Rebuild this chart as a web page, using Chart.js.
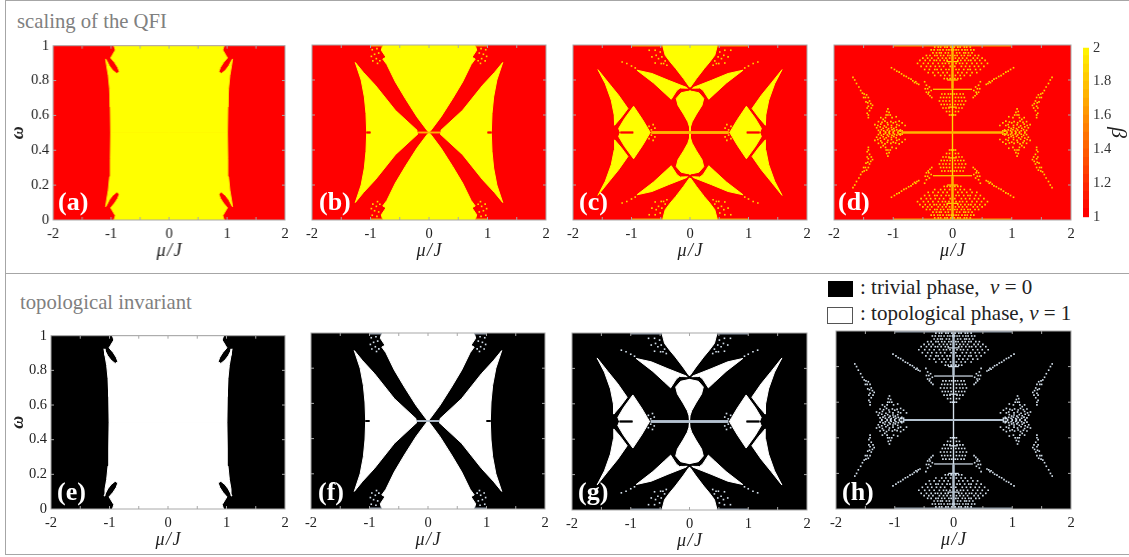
<!DOCTYPE html>
<html><head><meta charset="utf-8">
<script src="https://cdn.jsdelivr.net/npm/chart.js@4"></script>
<style>
html,body{margin:0;padding:0;background:#fff;width:1129px;height:557px;overflow:hidden;font-family:"Liberation Serif",serif}
canvas{position:absolute}
.t{position:absolute;white-space:pre;line-height:1;font-family:"Liberation Serif",serif}
.box{position:absolute;border:1.5px solid #a6a6a6;border-right:none;box-sizing:border-box}
.tag{color:#fff;font-weight:bold;font-size:26px;z-index:5}
</style></head><body>
<div class="box" style="left:5px;top:0;width:1130px;height:274px"></div>
<div class="box" style="left:5px;top:273px;width:1130px;height:282px"></div>
<div class="t" style="left:17px;top:11px;font-size:20.7px;color:#808080">scaling of the QFI</div>
<div class="t" style="left:20px;top:292px;font-size:20.7px;color:#808080">topological invariant</div>
<div style="position:absolute;left:828px;top:281px;width:25px;height:16px;background:#000"></div>
<div style="position:absolute;left:827px;top:307px;width:26px;height:17px;background:#fff;border:1px solid #555;box-sizing:border-box"></div>
<div class="t" style="left:860px;top:277px;font-size:21px;color:#222">: trivial phase,  <i>&#957;</i> = 0</div>
<div class="t" style="left:860px;top:303px;font-size:21px;color:#222">: topological phase, <i>&#957;</i> = 1</div>
<script>
// ---------- axis ticks ----------
const muMin = -2, muMax = 2, omegaMin = 0, omegaMax = 1;
const betaLevels = [1,1.05,1.1,1.15,1.2,1.25,1.3,1.35,1.4,1.45,1.5,1.55,1.6,1.65,1.7,1.75,1.8,1.85,1.9,1.95,2];
const minorMu = [-1.5,-1,-0.5,0,0.5,1,1.5];
const minorOmega = [0.2,0.4,0.6,0.8];

// ---------- phase boundaries, upper-left quadrant, [mu, omega] (the maps are symmetric) ----------
const aCentre = [[0,1],[-0.95,1],[-0.926,.975],[-0.984,.943],[-1.007,.93],[-0.938,.903],[-0.886,.876],[-0.857,.85],[-0.903,.84],[-0.973,.859],[-1.03,.884],[-1.076,.914],[-1.094,.924],[-1.077,.886],[-1.048,.829],[-1.025,.752],[-1.013,.648],[-1.007,.5],[0,.5]];

const bTop = [[0,1],[-0.79,1],[-0.815,.97],[-0.735,.93],[-0.79,.92],[-0.72,.888],[-0.575,.789],[-0.405,.694],[-0.205,.589],[-0.035,.513],[0,.5]];
const bLeft = [[-1.26,.90],[-1.16,.80],[-1.105,.703],[-1.077,.608],[-1.065,.5],[-0.194,.5],[-0.205,.513],[-0.575,.627],[-0.917,.77],[-1.117,.842]];
const bDots = [[-0.97,.973],[-0.89,.979],[-0.93,.947],[-0.86,.954],[-0.985,.935],[-0.90,.922],[-0.96,.909],[-0.84,.91],[-0.88,.895]];
const bStubs = [[[-1.07,.5],[-1.0,.5]]];
const bLines = [[[-0.194,.5],[0,.5]]];
const bEdges = [[[-1,1],[-0.79,1]]];

const cTop = [[0,1],[-0.47,1],[-0.424,.941],[-0.338,.903],[-0.242,.865],[-0.111,.808],[-0.009,.76],[0,.76]];
const cBand = [[-0.907,.856],[-0.65,.837],[-0.367,.798],[-0.054,.757],[-0.037,.75],[-0.168,.755],[-0.225,.74],[-0.321,.69],[-0.424,.722],[-0.623,.783]];
const cBulb = [[0,.738],[-0.151,.727],[-0.235,.695],[-0.205,.655],[-0.111,.605],[-0.037,.561],[-0.009,.532],[0,.5]];
const cCrescent = [[-1.573,.859],[-1.448,.779],[-1.346,.684],[-1.295,.599],[-1.289,.542],[-1.175,.586],[-1.061,.637],[-1.22,.713],[-1.391,.783]];
const cInner = [[-0.964,.65],[-0.811,.574],[-0.72,.523],[-0.68,.5],[-1.192,.5],[-1.22,.523],[-1.118,.58]];
const cDots = [[-1.16,.903],[-1.08,.894],[-1.0,.88],[-0.936,.869],[-0.697,.97],[-0.595,.97],[-0.509,.96],[-0.651,.932],[-0.538,.922],[-0.481,.932],[-0.578,.941],[-0.452,.894],[-0.395,.884],[-0.492,.894],[-0.595,.897],[-0.424,.909],[-0.70,.535],[-0.63,.545],[-0.60,.525],[-0.66,.515]];
const cStubs = [[[-1.19,.5],[-0.97,.5]],[[-0.13,.745],[-0.02,.745]]];
const cLines = [[[-0.66,.5],[0,.5]]];
const cEdges = [[[-1,1],[-0.47,1]]];

const dDots = [
[-1.68,.815],[-1.65,.80],[-1.62,.78],[-1.58,.76],[-1.55,.74],[-1.52,.725],[-1.49,.72],[-1.47,.70],[-1.50,.70],[-1.45,.715],[-1.42,.70],[-1.46,.675],[-1.43,.67],[-1.40,.68],[-1.38,.665],[-1.35,.655],[-1.37,.64],[-1.42,.65],[-1.40,.625],[-1.44,.64],[-1.42,.60],[-1.42,.585],[-1.44,.61],
[-1.09,.635],[-1.11,.62],[-1.07,.615],[-1.12,.60],[-1.09,.60],[-1.05,.60],[-1.02,.585],[-1.13,.585],[-1.21,.585],[-1.17,.575],[-0.95,.59],[-0.9,.565],[-0.85,.555],[-0.8,.54],
[-1.25,.562],[-1.19,.558],[-1.14,.565],[-1.1,.556],[-1.04,.562],[-1.0,.555],[-0.96,.56],
[-1.31,.545],[-1.26,.54],[-1.21,.548],[-1.15,.538],[-1.09,.545],[-1.03,.54],[-0.94,.545],[-0.9,.54],
[-1.28,.527],[-1.22,.532],[-1.17,.524],[-1.12,.53],[-1.08,.522],[-1.03,.528],[-0.99,.522],[-0.95,.53],
[-1.25,.512],[-1.2,.516],[-1.16,.51],[-1.1,.514],[-1.06,.508],[-1.02,.516],[-0.98,.51],[-0.94,.515],[-0.9,.51],
[-1.22,.503],[-1.13,.503],[-1.07,.503],[-1.0,.503],[-0.92,.503],[-0.88,.515],[-0.88,.508],[-0.85,.51],
[-0.30,.988],[-0.24,.988],[-0.20,.988],[-0.13,.988],[-0.09,.988],[-0.03,.988],
[-0.36,.972],[-0.31,.972],[-0.25,.972],[-0.21,.972],[-0.16,.972],[-0.1,.972],[-0.06,.972],[-0.02,.972],
[-0.33,.955],[-0.27,.955],[-0.22,.955],[-0.19,.955],[-0.12,.955],[-0.07,.955],
[-0.44,.94],[-0.38,.94],[-0.30,.94],[-0.26,.94],[-0.2,.94],[-0.15,.94],[-0.08,.94],[-0.04,.94],
[-0.5,.925],[-0.42,.925],[-0.35,.925],[-0.24,.925],[-0.17,.925],[-0.11,.925],[-0.05,.925],
[-0.55,.912],[-0.46,.912],[-0.38,.912],[-0.31,.912],[-0.27,.912],[-0.21,.912],[-0.14,.912],[-0.09,.912],
[-0.59,.895],[-0.49,.895],[-0.41,.895],[-0.33,.895],[-0.24,.895],[-0.17,.895],[-0.12,.895],[-0.06,.895],
[-0.53,.878],[-0.44,.878],[-0.37,.878],[-0.29,.878],[-0.22,.878],[-0.15,.878],[-0.04,.878],
[-0.47,.86],[-0.39,.86],[-0.3,.86],[-0.26,.86],[-0.19,.86],[-0.11,.86],[-0.06,.86],
[-0.41,.842],[-0.33,.842],[-0.24,.842],[-0.16,.842],[-0.09,.842],
[-0.3,.826],[-0.2,.826],[-0.13,.826],[-0.05,.826],[-0.14,.808],[-0.09,.808],[-0.04,.808],
[-1.03,.87],[-0.98,.86],[-0.94,.85],[-0.9,.845],[-0.86,.835],[-0.82,.825],[-0.78,.82],[-0.74,.81],[-0.7,.805],[-0.67,.795],[-0.64,.785],[-0.62,.79],[-0.6,.78],[-0.57,.775],
[-0.47,.79],[-0.44,.77],[-0.46,.75],[-0.42,.75],[-0.39,.76],[-0.36,.74],[-0.41,.72],[-0.38,.71],[-0.4,.73],[-0.44,.73],[-0.35,.70],
[-0.18,.72],[-0.13,.72],[-0.07,.72],[-0.03,.72],[-0.2,.70],[-0.15,.70],[-0.1,.70],[-0.05,.70],
[-0.22,.68],[-0.16,.68],[-0.11,.68],[-0.05,.68],[-0.19,.66],[-0.14,.66],[-0.09,.66],[-0.04,.66],
[-0.16,.64],[-0.11,.64],[-0.06,.64],[-0.1,.62],[-0.05,.62],[-0.05,.60],[-0.02,.60]];
const dLines = [[[-0.86,.5],[0,.5]],[[0,.75],[0,1]]];
const dThin = [[[0,.5],[0,.75]],[[-0.33,.747],[0,.747]],[[-0.1,.905],[0,.905]],[[-0.09,.8],[0,.8]],[[-0.07,.645],[0,.645]]];
const dEdges = [[[-1,1],[0,1]]];

const upper = {base:'#ff0000', fg:'#ffff00', line:'#ffb400', edge:'#ffa000', dot:'#ffd800'};
const lower = {base:'#000000', fg:'#ffffff', line:'#b4c2d0', edge:'#8c99a8', dot:'#d4e0ec'};

const famA = {polys:[aCentre], dots:[], stubs:[], lines:[], thin:[], edges:[], lw:2};
const famB = {polys:[bTop,bLeft], dots:bDots, stubs:bStubs, lines:bLines, thin:[], edges:bEdges, lw:1.5};
const famC = {polys:[cTop,cBand,cBulb,cCrescent,cInner], dots:cDots, stubs:cStubs, lines:cLines, thin:[], edges:cEdges, lw:2.5};
const famD = {polys:[], dots:dDots, stubs:[], lines:dLines, thin:dThin, edges:dEdges, lw:2};

function four(list){
  const out=[];
  for(const sx of [1,-1]) for(const flip of [false,true])
    out.push(list.map(p=>({x:sx*p[0], y:flip?1-p[1]:p[1]})));
  return out;
}
function datasets(f,th){
  const ds=[];
  for(const poly of f.polys) for(const q of four(poly.concat([poly[0]])))
    ds.push({data:q,showLine:true,fill:'shape',backgroundColor:th.fg,borderColor:th.fg,borderWidth:1,pointRadius:0,order:5});
  for(const seg of f.stubs) for(const q of four(seg))
    ds.push({data:q,showLine:true,fill:false,borderColor:th.base,borderWidth:1.8,pointRadius:0,order:4});
  for(const seg of f.lines) for(const q of four(seg))
    ds.push({data:q,showLine:true,fill:false,borderColor:th.line,borderWidth:f.lw,pointRadius:0,order:3});
  for(const seg of f.thin) for(const q of four(seg))
    ds.push({data:q,showLine:true,fill:false,borderColor:th.dot,borderWidth:1.2,pointRadius:0,order:3});
  for(const seg of f.edges) for(const q of four(seg))
    ds.push({data:q,showLine:true,fill:false,borderColor:th.edge,borderWidth:3,pointRadius:0,order:2});
  if(f.dots.length) ds.push({data:four(f.dots).flat(),showLine:false,pointStyle:'rect',pointRadius:1.15,pointBackgroundColor:th.dot,pointBorderWidth:0,order:1});
  return ds;
}
const frame={id:'frame',
  beforeDatasetsDraw(c,a,o){const g=c.chartArea,x=c.ctx;x.save();x.fillStyle=o.base;x.fillRect(g.left,g.top,g.width,g.height);x.restore();},
  afterDatasetsDraw(c){const g=c.chartArea,x=c.ctx,sx=c.scales.x,sy=c.scales.y;x.save();
    x.strokeStyle='#a8a8a8';x.lineWidth=1;x.beginPath();
    for(const m of minorMu){const p=sx.getPixelForValue(m);x.moveTo(p,g.top);x.lineTo(p,g.top+3);x.moveTo(p,g.bottom);x.lineTo(p,g.bottom-3);}
    for(const w of minorOmega){const p=sy.getPixelForValue(w);x.moveTo(g.left,p);x.lineTo(g.left+3,p);x.moveTo(g.right,p);x.lineTo(g.right-3,p);}
    x.stroke();x.strokeRect(g.left,g.top,g.width,g.height);x.restore();}
};
const TXT='#222';
const plain=v=>String(+Number(v).toFixed(1));
function panel(tag,l,t,r,b,fam,th,showY,tx,ty){
  const left=8, L=l-left, T=12, R=16, B=42;
  const cv=document.createElement('canvas');
  const cl=showY?left:l-40, w=(r-cl)+R, h=(b-t)+T+B;
  cv.width=w;cv.height=h;cv.style.cssText=`left:${cl}px;top:${t-T}px;width:${w}px;height:${h}px`;
  document.body.appendChild(cv);
  new Chart(cv,{type:'scatter',data:{datasets:datasets(fam,th)},plugins:[frame],options:{
    responsive:false,animation:false,devicePixelRatio:1,
    layout:{padding:{top:T,right:R,bottom:0,left:showY?0:40}},
    plugins:{legend:{display:false},tooltip:{enabled:false},frame:{base:th.base}},
    scales:{
      x:{type:'linear',min:muMin,max:muMax,grid:{display:false,drawTicks:false},border:{display:false},
         afterFit(s){s.height=B;},
         ticks:{stepSize:1,padding:5,color:TXT,maxRotation:0,callback:plain,font:{family:'Liberation Serif',size:14.5}},
         title:{display:true,text:'\u03bc\u200a/\u200aJ',color:TXT,padding:0,font:{family:'Liberation Serif',size:18,style:'italic'}}},
      y:{type:'linear',display:showY,min:omegaMin,max:omegaMax,grid:{display:false,drawTicks:false},border:{display:false},
         afterFit(s){if(showY)s.width=L;},
         ticks:{stepSize:.2,padding:4,color:TXT,callback:plain,font:{family:'Liberation Serif',size:14.5}},
         title:{display:true,text:'\u03c9',color:TXT,padding:0,font:{family:'Liberation Serif',size:18,style:'italic',weight:'bold'}}}
    }}});
  const d=document.createElement('div');d.className='t tag';d.textContent=tag;
  d.style.left=tx+'px';d.style.top=ty+'px';document.body.appendChild(d);
}
panel('(a)',53,45,284.5,220,famA,upper,true,58,189);
panel('(b)',312,45,546,220,famB,upper,false,319,189);
panel('(c)',573,45,807,220,famC,upper,false,579,189);
panel('(d)',834,45,1071,220,famD,upper,false,838,189);
panel('(e)',51,335,285,509,famA,lower,true,57,479);
panel('(f)',311,333,545,509,famB,lower,false,318,479);
panel('(g)',572,333,807,510,famC,lower,false,578,479);
panel('(h)',836,331,1071,509,famD,lower,false,842,479);

// colour bar
(function(){
  const cv=document.createElement('canvas');
  cv.width=48;cv.height=195;cv.style.cssText='left:1083px;top:35px;width:48px;height:195px';
  document.body.appendChild(cv);
  const ds=[];
  for(let i=0;i<betaLevels.length-1;i++){
    const g=Math.round((betaLevels[i]-1)*255);
    ds.push({data:[[betaLevels[i],betaLevels[i+1]+.003]],backgroundColor:`rgb(255,${g},0)`,borderWidth:0,grouped:false,categoryPercentage:1,barPercentage:1});
  }
  new Chart(cv,{type:'bar',data:{labels:[''],datasets:ds},options:{
    responsive:false,animation:false,devicePixelRatio:1,
    layout:{padding:{top:10,bottom:10,left:0,right:0}},
    plugins:{legend:{display:false},tooltip:{enabled:false}},
    scales:{
      x:{display:false},
      y:{position:'right',min:1,max:2,grid:{display:false,drawTicks:false},border:{display:false},
         afterFit(s){s.width=42;},
         ticks:{stepSize:.2,padding:4,color:'#333',callback:plain,font:{family:'Liberation Serif',size:14.5}},
         title:{display:true,text:'\u03b2',color:TXT,padding:0,font:{family:'Liberation Serif',size:22,style:'italic'}}}
    }}});
})();
</script>
</body></html>
